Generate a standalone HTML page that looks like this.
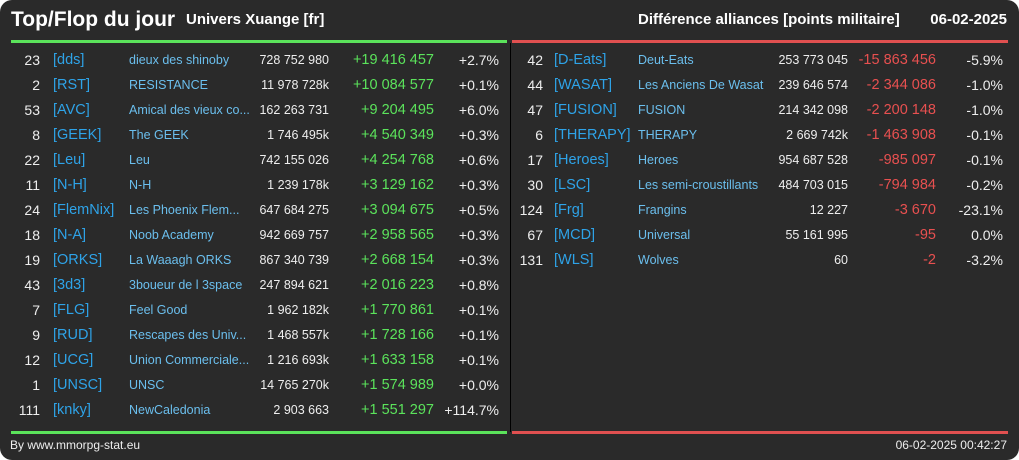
<!DOCTYPE html>
<html><head><meta charset="utf-8"><style>
html,body{margin:0;padding:0;background:#fff;}
#root{position:relative;width:1019px;height:460px;background:#2a2a2a;border-radius:12px;overflow:hidden;font-family:"Liberation Sans",sans-serif;color:#eee;}
.t{position:absolute;white-space:nowrap;line-height:16px;}
.r{text-align:right;}
</style></head><body>
<div id="root">
<div class="t" style="left:11px;top:9px;font-size:21px;font-weight:bold;line-height:22px;color:#fff">Top/Flop du jour</div>
<div class="t" style="left:186px;top:12px;font-size:15px;font-weight:bold;color:#fff">Univers Xuange [fr]</div>
<div class="t" style="left:638px;top:12px;font-size:15px;font-weight:bold;color:#fff">Différence alliances [points militaire]</div>
<div class="t" style="right:12px;top:12px;font-size:15px;font-weight:bold;color:#fff">06-02-2025</div>
<div style="position:absolute;left:11px;top:40px;width:496px;height:3px;background:#5be35b"></div>
<div style="position:absolute;left:512px;top:40px;width:496px;height:3px;background:#e05050"></div>
<div style="position:absolute;left:510px;top:43px;width:1px;height:389px;background:#000"></div>
<div style="position:absolute;left:11px;top:431px;width:496px;height:3px;background:#5be35b"></div>
<div style="position:absolute;left:512px;top:431px;width:496px;height:3px;background:#e05050"></div>
<div class="t" style="left:10px;top:437px;font-size:12px;color:#eee">By www.mmorpg-stat.eu</div>
<div class="t" style="right:12px;top:437px;font-size:12px;color:#eee">06-02-2025 00:42:27</div>
</div>
<script>
const topRows=[
["23","[dds]","dieux des shinoby","728 752 980","+19 416 457","+2.7%"],
["2","[RST]","RESISTANCE","11 978 728k","+10 084 577","+0.1%"],
["53","[AVC]","Amical des vieux co...","162 263 731","+9 204 495","+6.0%"],
["8","[GEEK]","The GEEK","1 746 495k","+4 540 349","+0.3%"],
["22","[Leu]","Leu","742 155 026","+4 254 768","+0.6%"],
["11","[N-H]","N-H","1 239 178k","+3 129 162","+0.3%"],
["24","[FlemNix]","Les Phoenix Flem...","647 684 275","+3 094 675","+0.5%"],
["18","[N-A]","Noob Academy","942 669 757","+2 958 565","+0.3%"],
["19","[ORKS]","La Waaagh ORKS","867 340 739","+2 668 154","+0.3%"],
["43","[3d3]","3boueur de l 3space","247 894 621","+2 016 223","+0.8%"],
["7","[FLG]","Feel Good","1 962 182k","+1 770 861","+0.1%"],
["9","[RUD]","Rescapes des Univ...","1 468 557k","+1 728 166","+0.1%"],
["12","[UCG]","Union Commerciale...","1 216 693k","+1 633 158","+0.1%"],
["1","[UNSC]","UNSC","14 765 270k","+1 574 989","+0.0%"],
["111","[knky]","NewCaledonia","2 903 663","+1 551 297","+114.7%"]];
const flopRows=[
["42","[D-Eats]","Deut-Eats","253 773 045","-15 863 456","-5.9%"],
["44","[WASAT]","Les Anciens De Wasat","239 646 574","-2 344 086","-1.0%"],
["47","[FUSION]","FUSION","214 342 098","-2 200 148","-1.0%"],
["6","[THERAPY]","THERAPY","2 669 742k","-1 463 908","-0.1%"],
["17","[Heroes]","Heroes","954 687 528","-985 097","-0.1%"],
["30","[LSC]","Les semi-croustillants","484 703 015","-794 984","-0.2%"],
["124","[Frg]","Frangins","12 227","-3 670","-23.1%"],
["67","[MCD]","Universal","55 161 995","-95","0.0%"],
["131","[WLS]","Wolves","60","-2","-3.2%"]];
const root=document.getElementById('root');
function put(text,x,y,align,size,color,name,inter){
  const d=document.createElement('div');
  d.className='t';
  d.textContent=text;
  d.style.top=(y-8)+'px';
  d.style.fontSize=size+'px';
  d.style.color=color;
  if(align==='r'){d.style.right=(1019-x)+'px';}else{d.style.left=x+'px';}
  
  
  root.appendChild(d);
}
function table(rows,c,diffColor,prefix){
  rows.forEach((r,i)=>{
    const y=60+i*25;
    put(r[0],c[0],y,'r',14,'#eee',prefix+'-rank',false);
    put(r[1],c[1],y,'l',14.5,'#2ea3e8',prefix+'-tag',true);
    put(r[2],c[2],y,'l',12.5,'#6bbfee',prefix+'-name',true);
    put(r[3],c[3],y,'r',12.5,'#eee',prefix+'-points',false);
    put(r[4],c[4],y,'r',14.5,diffColor,prefix+'-diff',false);
    put(r[5],c[5],y,'r',14,'#eee',prefix+'-percent',false);
  });
}
table(topRows,[40,53,129,329,434,499],'#5be35b','top-row');
table(flopRows,[543,554,638,848,936,1003],'#e85050','flop-row');
</script>
</body></html>
